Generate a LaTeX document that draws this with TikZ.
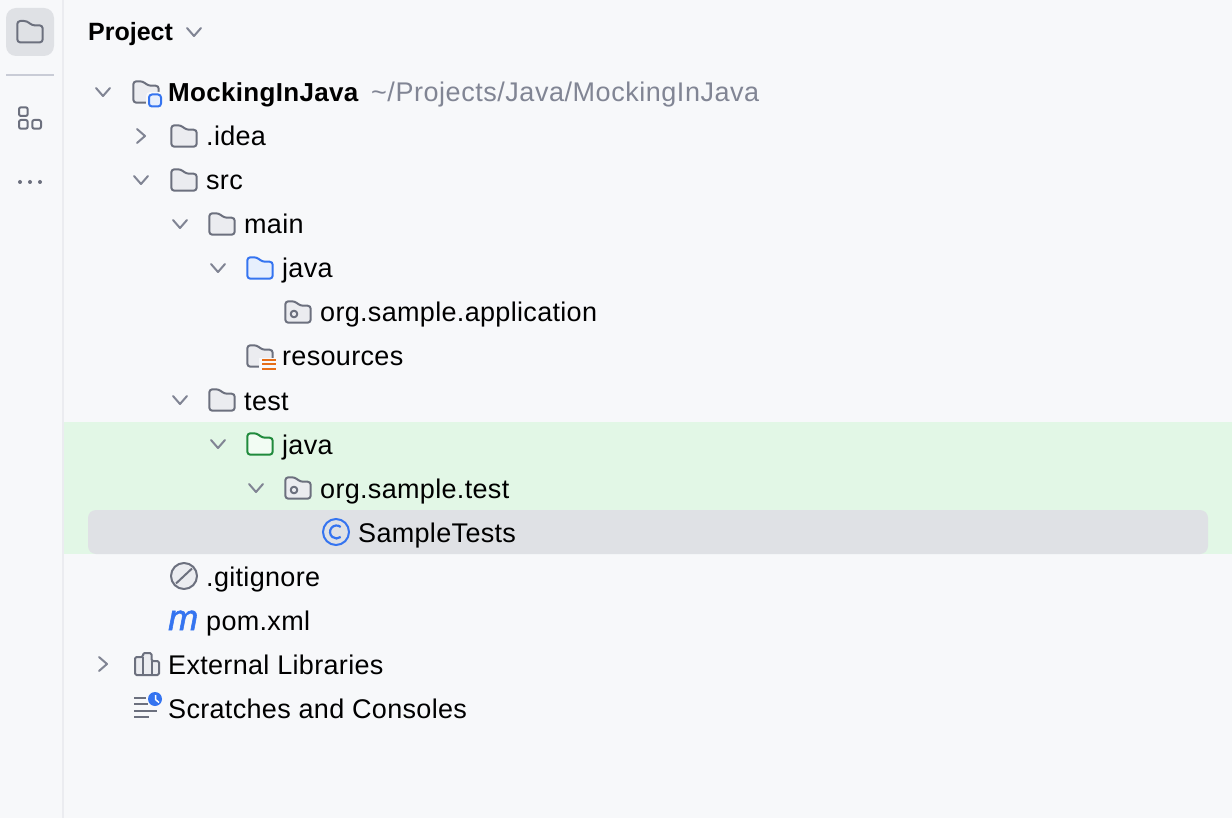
\documentclass[tikz,border=0pt]{standalone}
\usepackage{fontspec}
\setmainfont[LetterSpace=1.2]{Liberation Sans}
\definecolor{panelbg}{HTML}{F7F8FA}
\definecolor{treeink}{HTML}{000000}
\definecolor{pathink}{HTML}{818594}
\definecolor{iconink}{HTML}{6C707E}
\definecolor{iconfill}{HTML}{EBECF0}
\definecolor{chevronink}{HTML}{818594}
\definecolor{selectfill}{HTML}{DFE1E5}
\definecolor{testband}{HTML}{E2F7E6}
\definecolor{sideline}{HTML}{EBECF0}
\definecolor{sidesep}{HTML}{C9CCD6}
\definecolor{blueink}{HTML}{3574F0}
\definecolor{bluefill}{HTML}{E7EFFD}
\definecolor{greenink}{HTML}{208A3C}
\definecolor{greenfill}{HTML}{F2FCF3}
\definecolor{orangeink}{HTML}{E66D17}
\tikzset{treetext/.style={anchor=base west, inner sep=0pt, text=treeink, font=\fontsize{27}{30}\selectfont}}
\tikzset{iconline/.style={draw=iconink, line width=2pt, line join=round}}
\tikzset{chevronline/.style={draw=chevronink, line width=2pt, line cap=round, line join=round}}
\newcommand{\treelabel}[3]{
	\node[treetext] (#1) at (#2) {#3};}
\newcommand{\foldericon}[3]{
	\draw[iconline, draw=#2, fill=#3, rounded corners=3pt, shift={(#1)}] (-12.7,-10.7) -- (-3,-10.7) -- (2,-6.3) -- (12.7,-6.3) -- (12.7,10.7) -- (-12.7,10.7) -- cycle;}
\newcommand{\packageicon}[1]{
	\foldericon{#1}{iconink}{iconfill}
	\draw[iconline, shift={(#1)}] (-4,2) circle[radius=3.3pt];}
\newcommand{\chevrondown}[1]{
	\draw[chevronline, shift={(#1)}] (-7,-4) -- (0,4) -- (7,-4);}
\newcommand{\chevronright}[1]{
	\draw[chevronline, shift={(#1)}] (-4,-7) -- (4,0) -- (-4,7);}
\begin{document}
\begin{tikzpicture}[x=1pt,y=-1pt]
\useasboundingbox (0,0) rectangle (1232,818);
\fill[panelbg] (0,0) rectangle (1232,818);
\fill[testband] (64,422) rectangle (1232,554);
\fill[selectfill, rounded corners=8pt] (88,510) rectangle (1208,554);
\draw[sideline, line width=2pt] (63,0) -- (63,818);

\fill[selectfill, rounded corners=10pt] (6,8) rectangle (54,56);
\foldericon{30,31.7}{iconink}{selectfill}
\draw[sidesep, line width=2pt] (6,75) -- (54,75);
\draw[iconline, rounded corners=2pt] (19,107.3) rectangle (27.7,116);
\draw[iconline, rounded corners=2pt] (19,120) rectangle (27.7,128.7);
\draw[iconline, rounded corners=2pt] (32.3,120) rectangle (41,128.7);
\fill[iconink] (20,182) circle[radius=2pt] (30,182) circle[radius=2pt] (40,182) circle[radius=2pt];

\node[treetext, font=\fontsize{25}{30}\selectfont\bfseries\addfontfeature{LetterSpace=0}] (project) at (88,41) {Project};
\chevrondown{194,32}

\chevrondown{103,92}
\foldericon{146,92}{iconink}{iconfill}
\fill[panelbg, rounded corners=4pt] (146,92) rectangle (164,110);
\draw[draw=blueink, fill=bluefill, line width=2pt, rounded corners=3pt] (149,94.5) rectangle (161,106.5);
\node[treetext, font=\fontsize{26}{30}\selectfont\bfseries] (mocking) at (168,102) {MockingInJava};
\node[treetext, text=pathink, font=\fontsize{27}{30}\selectfont\addfontfeature{LetterSpace=2}] (mockingpath) at (371,102) {\textasciitilde/Projects/Java/MockingInJava};

\chevronright{141,136}
\foldericon{184,136}{iconink}{iconfill}
\treelabel{idea}{206,146}{.idea}

\chevrondown{141,180}
\foldericon{184,180}{iconink}{iconfill}
\treelabel{src}{206,190}{src}

\chevrondown{180,224}
\foldericon{222,224}{iconink}{iconfill}
\treelabel{main}{244,234}{main}

\chevrondown{218,268}
\foldericon{260,268}{blueink}{bluefill}
\treelabel{mainjava}{282,278}{java}

\packageicon{298,312}
\treelabel{apppackage}{320,322}{org.sample.application}

\foldericon{260,356}{iconink}{iconfill}
\fill[panelbg] (259,358) rectangle (278,373);
\draw[orangeink, line width=2pt] (262,360) -- (276,360) (262,364.5) -- (276,364.5) (262,369) -- (276,369);
\treelabel{resources}{282,366}{resources}

\chevrondown{180,400}
\foldericon{222,400}{iconink}{iconfill}
\treelabel{test}{244,410}{test}

\chevrondown{218,444}
\foldericon{260,444}{greenink}{greenfill}
\treelabel{testjava}{282,454}{java}

\chevrondown{256,488}
\packageicon{298,488}
\treelabel{testpackage}{320,498}{org.sample.test}

\draw[blueink, line width=2pt] (336,532) circle[radius=13pt];
\draw[blueink, line width=2.2pt, shift={(336.5,532)}] (4.2,-5) arc[start angle=50, end angle=310, radius=6.5pt];
\treelabel{sampletests}{358,542}{SampleTests}

\draw[iconline, fill=iconfill] (184,576) circle[radius=13pt];
\draw[iconline] (176,583.5) -- (192,568.5);
\treelabel{gitignore}{206,586}{.gitignore}

\node[treetext, text=blueink, font=\fontsize{36}{40}\selectfont\itshape\addfontfeature{FakeBold=1.5}] (pomicon) at (168,630) {m};
\treelabel{pom}{206,630}{pom.xml}

\chevronright{103,664}
\draw[iconline, fill=iconfill, rounded corners=1.5pt] (135,675) -- (135,657) -- (143,657) -- (143,653) -- (151.5,653) -- (151.5,661) -- (159,661) -- (159,675) -- cycle;
\draw[iconline] (143,657) -- (143,675) (151.5,661) -- (151.5,675);
\treelabel{libraries}{168,674}{External Libraries}

\draw[iconink, line width=2pt] (134,698) -- (146,698) (134,704.3) -- (148,704.3) (134,710.7) -- (157,710.7) (134,716.7) -- (149,716.7);
\fill[blueink] (155,699) circle[radius=7pt];
\draw[white, line width=1.5pt] (155.5,695) -- (155.5,699.5) -- (159,702.5);
\treelabel{scratches}{168,718}{Scratches and Consoles}
\end{tikzpicture}
\end{document}
